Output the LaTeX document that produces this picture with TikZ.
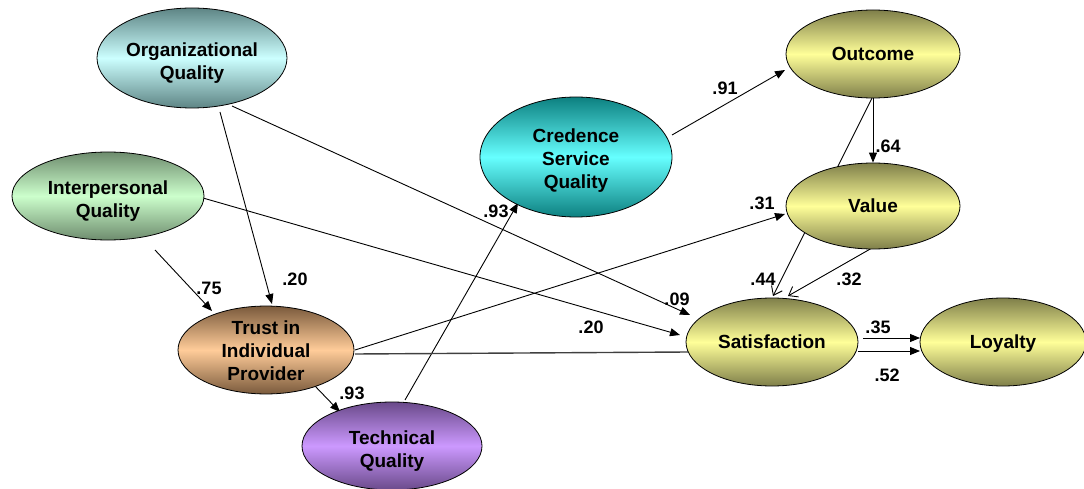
\documentclass[tikz,border=0pt]{standalone}
\usepackage{fontspec}
\setmainfont{Liberation Sans}
\usetikzlibrary{shapes.geometric,arrows.meta,calc}
\pgfdeclarelayer{background}
\pgfsetlayers{background,main}

% construct colours: dark rim / light core
\definecolor{orgD}{HTML}{5E8585}\definecolor{orgL}{HTML}{CCFFFF}
\definecolor{intD}{HTML}{6E8C6E}\definecolor{intL}{HTML}{CCFFCC}
\definecolor{creD}{HTML}{0D8080}\definecolor{creL}{HTML}{66FFFF}
\definecolor{truD}{HTML}{7A5A3C}\definecolor{truL}{HTML}{FFCC99}
\definecolor{tecD}{HTML}{6A4A8A}\definecolor{tecL}{HTML}{CC99FF}
\definecolor{yelD}{HTML}{7F7F4A}\definecolor{yelL}{HTML}{FFFF99}

% invisible strut that lowers a multi-line label inside its ellipse
\newcommand{\toplift}[1]{\rule{0pt}{#1}}

\begin{document}
\begin{tikzpicture}[x=1pt,y=-1pt,
  construct/.style={ellipse, draw=black, line width=0.8pt, inner sep=0pt,
    align=center, font=\fontsize{19}{23}\selectfont\bfseries},
  oneline/.style={text height=13.7pt, text depth=0pt},
  gradient/.style 2 args={top color=#1, bottom color=#1, middle color=#2},
  coef/.style={inner sep=0pt, font=\fontsize{18}{18}\selectfont\bfseries},
  effect/.style={line width=0.9pt, -{Triangle[length=10pt,width=8pt]}},
  openeffect/.style={line width=0.9pt, -{Straight Barb[length=8pt,width=12pt]}},
  plainline/.style={line width=1.4pt, black!75}]

\useasboundingbox (0,0) rectangle (1084,489);

% constructs
\node[construct, gradient={orgD}{orgL}, minimum width=190pt, minimum height=100pt]
  (org) at (192,58) {\toplift{23pt}Organizational\\Quality};
\node[construct, gradient={intD}{intL}, minimum width=192pt, minimum height=88pt]
  (inter) at (108,196) {\toplift{23pt}Interpersonal\\Quality};
\node[construct, gradient={creD}{creL}, minimum width=192pt, minimum height=120pt]
  (cred) at (576,157) {\toplift{21pt}Credence\\Service\\Quality};
\node[construct, gradient={truD}{truL}, minimum width=176pt, minimum height=86pt]
  (trust) at (266,350) {\toplift{16pt}Trust in\\Individual\\Provider};
\node[construct, gradient={tecD}{tecL}, minimum width=180pt, minimum height=88pt]
  (tech) at (392,446) {\toplift{24pt}Technical\\Quality};
\node[construct, oneline, gradient={yelD}{yelL}, minimum width=174pt, minimum height=88pt]
  (outc) at (873,54) {Outcome};
\node[construct, oneline, gradient={yelD}{yelL}, minimum width=174pt, minimum height=86pt]
  (value) at (873,206) {Value};
\node[construct, oneline, gradient={yelD}{yelL}, minimum width=172pt, minimum height=88pt]
  (sat) at (772,342) {Satisfaction};
\node[construct, oneline, gradient={yelD}{yelL}, minimum width=166pt, minimum height=88pt]
  (loy) at (1003,342) {Loyalty};

% paths between constructs
\begin{pgfonlayer}{background}
\draw[effect] ($(org)+(28,54)$) -- ($(trust)+(6,-46)$);
\draw[effect] ($(org)+(40,48)$) -- ($(sat)+(-82,-27)$);
\draw[effect] ($(inter)+(47,54)$) -- ($(trust)+(-54,-39)$);
\draw[effect] ($(inter)+(95,2)$) -- ($(sat)+(-92,-7)$);
\draw[effect] ($(trust)+(48,35)$) -- ($(tech)+(-52,-34)$);
\draw[effect] ($(tech)+(13,-46)$) -- ($(cred)+(-58,46)$);
\draw[effect] ($(cred)+(96,-22)$) -- ($(outc)+(-88,16)$);
\draw[effect] (outc.south) -- (value.north);
\draw[openeffect] ($(outc)+(-1,44)$) -- ($(sat)+(1,-46)$);
\draw[openeffect] ($(value)+(-1,42)$) -- ($(sat)+(16,-46)$);
\draw[effect] ($(trust)+(89,0)$) -- ($(value)+(-88,8)$);
\draw[plainline] ($(trust)+(89,4)$) -- ($(sat)+(-84,10)$);
\draw[effect] ($(sat)+(91,-4)$) -- ($(loy)+(-83,-4)$);
\draw[effect] ($(sat)+(86,9)$) -- ($(loy)+(-83,9)$);
\end{pgfonlayer}

% path coefficients
\node[coef] (c1)  at (295,279) {.20};
\node[coef] (c2)  at (677,299) {.09};
\node[coef] (c3)  at (209,288) {.75};
\node[coef] (c4)  at (591,327) {.20};
\node[coef] (c5)  at (352,393) {.93};
\node[coef] (c6)  at (496,211) {.93};
\node[coef] (c7)  at (725,88)  {.91};
\node[coef] (c8)  at (888,146) {.64};
\node[coef] (c9)  at (762,203) {.31};
\node[coef] (c10) at (763,279) {.44};
\node[coef] (c11) at (849,279) {.32};
\node[coef] (c12) at (878,327) {.35};
\node[coef] (c13) at (887,375) {.52};
\end{tikzpicture}
\end{document}
